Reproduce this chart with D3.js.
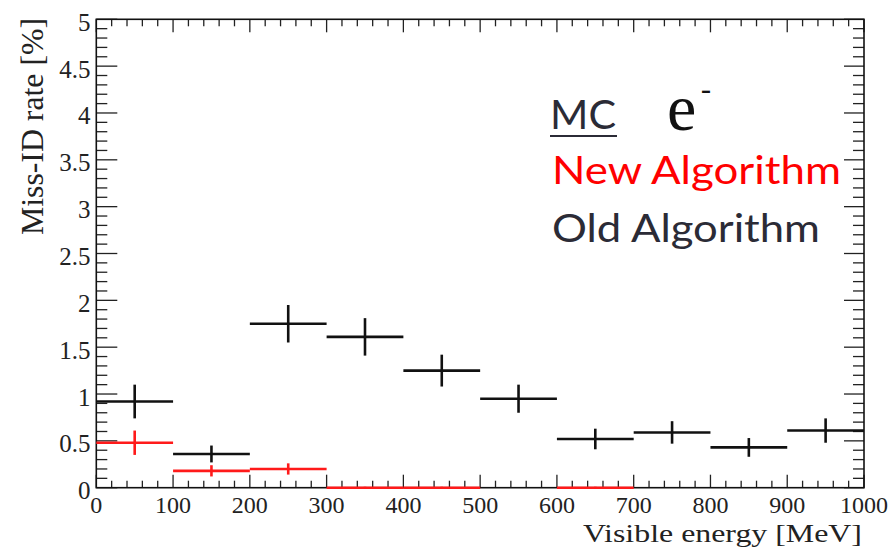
<!DOCTYPE html>
<html>
<head>
<meta charset="utf-8">
<script src="https://cdn.jsdelivr.net/npm/d3@7/dist/d3.min.js"></script>
<style>
  html, body { margin: 0; padding: 0; background: #fff; }
  svg { display: block; }
</style>
</head>
<body>
<svg id="chart" width="893" height="555"></svg>
<script>
// ---- data ----
const binEdges = [0, 100, 200, 300, 400, 500, 600, 700, 800, 900, 1000];
const oldValues = [0.92, 0.36, 1.75, 1.61, 1.25, 0.95, 0.52, 0.59, 0.43, 0.61];
const oldErrors = [0.18, 0.09, 0.20, 0.20, 0.17, 0.15, 0.11, 0.12, 0.10, 0.13];
const newValues = [0.48, 0.18, 0.20, 0, 0, null, 0, null, null, null];
const newErrors = [0.13, 0.06, 0.06, 0.01, 0.01, null, 0.01, null, null, null];
const xTicks = [0, 100, 200, 300, 400, 500, 600, 700, 800, 900, 1000];
const yTicks = [0, 0.5, 1, 1.5, 2, 2.5, 3, 3.5, 4, 4.5, 5];
const yTickLabels = ["0", "0.5", "1", "1.5", "2", "2.5", "3", "3.5", "4", "4.5", "5"];

// ---- layout ----
const L = 96.3, R = 864, T = 19.3, B = 487.7;
const svg = d3.select("#chart");
const x = d3.scaleLinear().domain([0, 1000]).range([L, R]);
const y = d3.scaleLinear().domain([0, 5]).range([B, T]);

const serif = "'Liberation Serif', 'Times New Roman', serif";
const sans = "Lato, 'Open Sans', sans-serif";

// ---- ticks ----
const g = svg.append("g");
const xMinor = d3.range(0, 1001, 20);
const yMinor = d3.range(0, 51, 1).map(v => v / 10);

function isMajorX(v) { return Math.abs(v % 100) < 1e-6; }
function isMajorY(v) { return Math.abs((v * 10) % 5) < 1e-6; }

// bottom & top
xMinor.forEach(v => {
  const maj = isMajorX(v);
  const lb = maj ? 13 : 7;
  g.append("line").attr("x1", x(v)).attr("x2", x(v)).attr("y1", B).attr("y2", B - lb)
    .attr("stroke", "#222").attr("stroke-width", 1.3);
  g.append("line").attr("x1", x(v)).attr("x2", x(v)).attr("y1", T).attr("y2", T + lb)
    .attr("stroke", "#222").attr("stroke-width", 1.3);
});
// left & right
yMinor.forEach(v => {
  const maj = isMajorY(v);
  const ll = maj ? 21 : 11;
  g.append("line").attr("x1", L).attr("x2", L + ll).attr("y1", y(v)).attr("y2", y(v))
    .attr("stroke", "#222").attr("stroke-width", 1.3);
  g.append("line").attr("x1", R).attr("x2", R - (maj ? 20 : 11)).attr("y1", y(v)).attr("y2", y(v))
    .attr("stroke", "#222").attr("stroke-width", 1.3);
});

// frame
svg.append("rect").attr("x", L).attr("y", T).attr("width", R - L).attr("height", B - T)
  .attr("fill", "none").attr("stroke", "#111").attr("stroke-width", 1.6);

// tick labels
xTicks.forEach(v => {
  svg.append("text").attr("x", x(v)).attr("y", 513)
    .attr("text-anchor", "middle").attr("font-family", serif).attr("font-size", 24)
    .attr("fill", "#222").text(String(v));
});
yTicks.forEach((v, i) => {
  svg.append("text").attr("x", 90.5).attr("y", y(v) + 3)
    .attr("text-anchor", "end").attr("dominant-baseline", "central")
    .attr("font-family", serif).attr("font-size", 25)
    .attr("fill", "#222").text(yTickLabels[i]);
});

// axis titles
svg.append("text").attr("x", 862).attr("y", 542).attr("text-anchor", "end")
  .attr("font-family", serif).attr("font-size", 26).attr("fill", "#222")
  .attr("textLength", 279).attr("lengthAdjust", "spacingAndGlyphs")
  .text("Visible energy [MeV]");
svg.append("text").attr("transform", "translate(43,18) rotate(-90)").attr("text-anchor", "end")
  .attr("font-family", serif).attr("font-size", 32).attr("fill", "#222")
  .attr("textLength", 217).attr("lengthAdjust", "spacingAndGlyphs")
  .text("Miss-ID rate [%]");

// ---- data marks ----
function drawSeries(values, errors, color, width) {
  const gs = svg.append("g").attr("stroke", color).attr("stroke-width", width).attr("fill", "none");
  values.forEach((v, i) => {
    if (v === null) return;
    const x0 = binEdges[i], x1 = binEdges[i + 1], xc = (x0 + x1) / 2;
    const e = errors[i];
    gs.append("line").attr("x1", x(x0)).attr("x2", x(x1)).attr("y1", y(v)).attr("y2", y(v));
    gs.append("line").attr("x1", x(xc)).attr("x2", x(xc)).attr("y1", y(v - e)).attr("y2", y(v + e));
  });
}
drawSeries(oldValues, oldErrors, "#111", 2.6);
drawSeries(newValues, newErrors, "#ff1a1a", 2.6);

// ---- legend text ----
const legendColor = "#2b2b36";
svg.append("text").attr("x", 550).attr("y", 128.5)
  .attr("font-family", sans).attr("font-size", 40).attr("fill", legendColor)
  .attr("textLength", 66).attr("lengthAdjust", "spacingAndGlyphs").text("MC");
svg.append("line").attr("x1", 550).attr("x2", 617).attr("y1", 136).attr("y2", 136)
  .attr("stroke", legendColor).attr("stroke-width", 2.2);
svg.append("text").attr("x", 667).attr("y", 129.5)
  .attr("font-family", serif).attr("font-size", 66).attr("fill", "#111").text("e");
svg.append("text").attr("x", 700).attr("y", 101)
  .attr("font-family", sans).attr("font-size", 30).attr("fill", "#111")
  .attr("textLength", 12).attr("lengthAdjust", "spacingAndGlyphs").text("-");
svg.append("text").attr("x", 552).attr("y", 183.5)
  .attr("font-family", sans).attr("font-size", 39).attr("fill", "#ff0000")
  .attr("textLength", 289).attr("lengthAdjust", "spacingAndGlyphs").text("New Algorithm");
svg.append("text").attr("x", 552).attr("y", 242)
  .attr("font-family", sans).attr("font-size", 39).attr("fill", legendColor)
  .attr("textLength", 268).attr("lengthAdjust", "spacingAndGlyphs").text("Old Algorithm");
</script>
</body>
</html>
